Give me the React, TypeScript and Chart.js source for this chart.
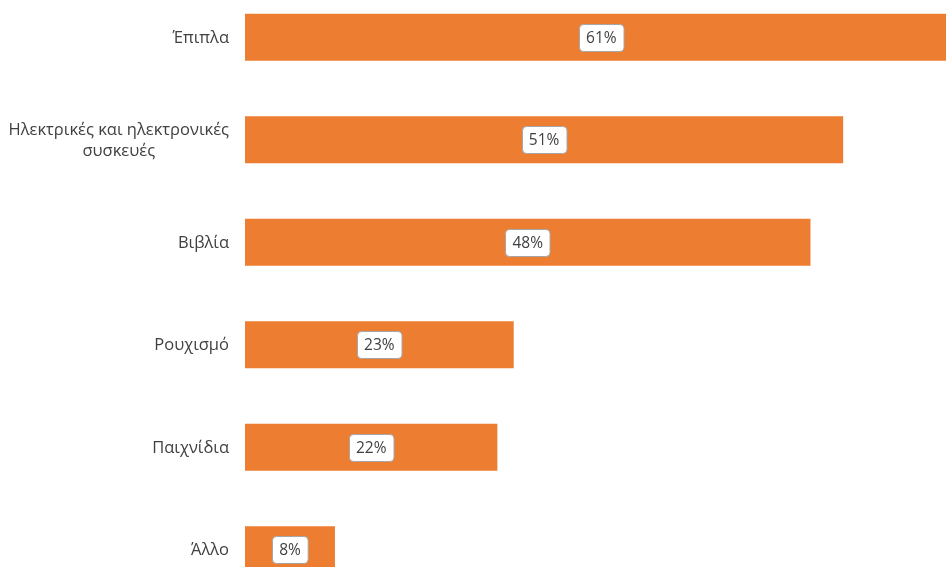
import React, { useEffect, useRef } from "react";
import { Chart, registerables } from "chart.js";

Chart.register(...registerables);

const categories: string[][] = [
  ["Έπιπλα"],
  ["Ηλεκτρικές και ηλεκτρονικές", "συσκευές"],
  ["Βιβλία"],
  ["Ρουχισμό"],
  ["Παιχνίδια"],
  ["Άλλο"],
];
const values: number[] = [61, 51.2, 48.4, 23.0, 21.6, 7.7];
const barColor = "#ED7D31";
const textColor = "#404040";
const fontFamily = "'Open Sans', 'Noto Sans', sans-serif";

const labelPlugin = {
  id: "customLabels",
  afterDraw(chart: any) {
    const ctx = chart.ctx;
    const yScale = chart.scales.y;
    const xScale = chart.scales.x;
    ctx.save();
    ctx.font = `16.5px ${fontFamily}`;
    ctx.fillStyle = textColor;
    ctx.textBaseline = "middle";
    const rightX = chart.chartArea.left - 16;
    const lineH = 21;
    categories.forEach((lines, i) => {
      const yc = yScale.getPixelForValue(i) + 1;
      const widths = lines.map((l) => ctx.measureText(l).width);
      const maxW = Math.max(...widths);
      const blockCenter = rightX - maxW / 2;
      ctx.textAlign = "center";
      lines.forEach((l, j) => {
        const y = yc + (j - (lines.length - 1) / 2) * lineH;
        ctx.fillText(l, blockCenter, y);
      });
    });
    ctx.font = `15.5px ${fontFamily}`;
    values.forEach((v, i) => {
      const text = Math.round(v) + "%";
      const x0 = xScale.getPixelForValue(0);
      const x1 = xScale.getPixelForValue(v);
      const cx = (x0 + x1) / 2;
      const cy = yScale.getPixelForValue(i);
      const w = ctx.measureText(text).width + 14;
      const h = 27;
      const bx = Math.round(cx - w / 2) + 0.5;
      const by = Math.round(cy - h / 2) + 0.5;
      ctx.beginPath();
      ctx.roundRect(bx, by, w, h, 4);
      ctx.fillStyle = "#FFFFFF";
      ctx.fill();
      ctx.lineWidth = 1;
      ctx.strokeStyle = "#A6A6A6";
      ctx.stroke();
      ctx.fillStyle = textColor;
      ctx.textAlign = "center";
      ctx.textBaseline = "middle";
      ctx.fillText(text, cx, cy + 1);
    });
    ctx.restore();
  },
};

export default function App() {
  const ref = useRef<HTMLCanvasElement | null>(null);
  useEffect(() => {
    if (!ref.current) return;
    const chart = new Chart(ref.current, {
      type: "bar",
      data: {
        labels: categories.map((c) => c.join(" ")),
        datasets: [
          {
            data: values,
            backgroundColor: barColor,
            borderWidth: 0,
            barPercentage: 0.46,
            categoryPercentage: 1,
          },
        ],
      },
      options: {
        indexAxis: "y",
        animation: false,
        responsive: true,
        maintainAspectRatio: false,
        layout: { padding: { left: 245, right: 0, top: 0, bottom: 0 } },
        plugins: { legend: { display: false }, tooltip: { enabled: false } },
        scales: {
          x: { display: false, min: 0, max: 60 },
          y: { display: false },
        },
      },
      plugins: [labelPlugin],
    });
    return () => chart.destroy();
  }, []);
  return (
    <div
      style={{
        position: "fixed",
        top: 0,
        left: 0,
        width: 946,
        height: 567,
        overflow: "hidden",
        background: "#fff",
      }}
    >
      <div style={{ position: "absolute", top: -14, left: 0, width: 946, height: 615 }}>
        <canvas ref={ref} />
      </div>
    </div>
  );
}
